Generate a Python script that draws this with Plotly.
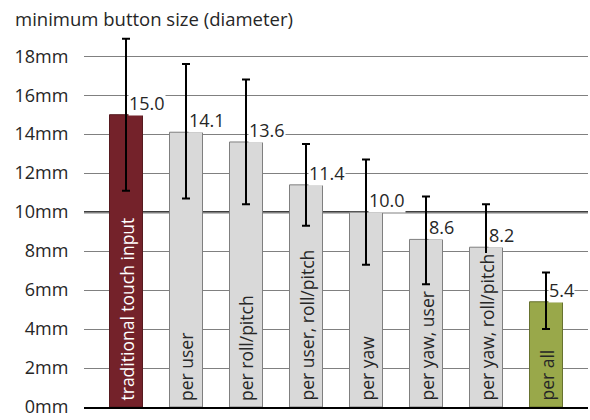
import plotly.graph_objects as go

categories = ["traditional touch input", "per user", "per roll/pitch", "per user, roll/pitch",
              "per yaw", "per yaw, user", "per yaw, roll/pitch", "per all"]
values = [15.0, 14.1, 13.6, 11.4, 10.0, 8.6, 8.2, 5.4]
err_plus = [3.9, 3.5, 3.2, 2.1, 2.7, 2.2, 2.2, 1.5]
err_minus = [3.9, 3.4, 3.2, 2.1, 2.7, 2.3, 2.2, 1.4]
tick_vals = [0, 2, 4, 6, 8, 10, 12, 14, 16, 18]
tick_text = ["0mm", "2mm", "4mm", "6mm", "8mm", "10mm", "12mm", "14mm", "16mm", "18mm"]
reference_mm = 10
title_text = "minimum button size (diameter)"

FONT = "Open Sans"
fills = ["#74222A"] + ["#D9D9D9"] * 6 + ["#99A84A"]
outlines = ["#561A1F"] + ["#7F7F7F"] * 6 + ["#67722F"]
label_colors = ["#FFFFFF"] + ["#262626"] * 7

x = list(range(len(categories)))

fig = go.Figure()
fig.add_trace(go.Bar(
    x=x, y=values, width=0.55,
    marker=dict(color=fills, line=dict(color=outlines, width=1)),
    error_y=dict(type="data", symmetric=False, array=err_plus, arrayminus=err_minus,
                 color="#000000", thickness=2, width=4),
    hoverinfo="skip", showlegend=False,
))

annotations = []
for i, (c, v) in enumerate(zip(categories, values)):
    annotations.append(dict(
        x=i, y=0, xref="x", yref="y", text=c, textangle=-90, showarrow=False,
        xanchor="center", yanchor="bottom", yshift=5, bgcolor=fills[i], borderpad=0,
        font=dict(family=FONT, size=17.5, color=label_colors[i]),
    ))
    annotations.append(dict(
        x=i, y=v, xref="x", yref="y", text=f"{v:.1f}", showarrow=False,
        xanchor="left", yanchor="bottom", xshift=2, yshift=-1, bgcolor="#FFFFFF", borderpad=0,
        font=dict(family=FONT, size=18, color="#262626"),
    ))

fig.update_layout(
    width=590, height=420,
    margin=dict(l=84, r=2, t=27, b=13),
    paper_bgcolor="#FFFFFF", plot_bgcolor="#FFFFFF",
    title=dict(text=title_text, x=15 / 590, xref="container", xanchor="left",
               y=1 - 20 / 420, yref="container", yanchor="middle",
               font=dict(family=FONT, size=18.5, color="#262626")),
    annotations=annotations,
    shapes=[dict(type="line", xref="paper", x0=0, x1=1, yref="y", y0=reference_mm, y1=reference_mm,
                 line=dict(color="#000000", width=2), layer="below")],
    xaxis=dict(range=[-0.7, len(categories) - 0.3], showticklabels=False, showgrid=False,
               zeroline=False, showline=True, linecolor="#000000", linewidth=2, ticks=""),
    yaxis=dict(range=[0, 19.5], tickvals=tick_vals, ticktext=tick_text, showgrid=True,
               gridcolor="#808080", gridwidth=1, zeroline=False, showline=False,
               ticks="outside", ticklen=11, tickcolor="rgba(0,0,0,0)",
               tickfont=dict(family=FONT, size=18, color="#262626")),
    bargap=0.45,
)

fig.write_html("out.html", config={"displayModeBar": False},
               post_script="document.body.style.margin='0';")
